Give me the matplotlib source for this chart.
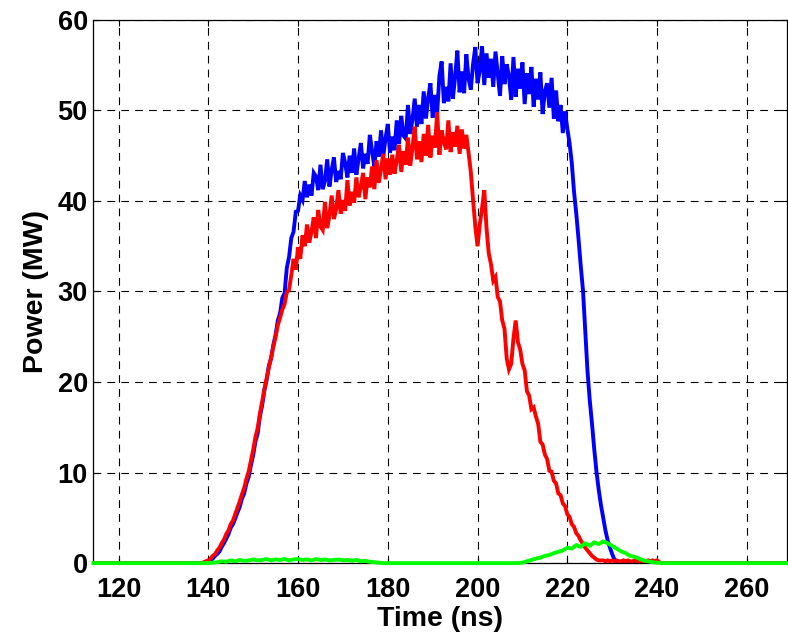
import matplotlib
matplotlib.use("Agg")
import matplotlib.pyplot as plt
import numpy as np

# --------------------------------------------------------------------------- #
# Data (MW vs ns)
# --------------------------------------------------------------------------- #
X_MIN, X_MAX = 114.4, 269.0
STEP = 0.5

# blue trace, 138.0 .. 232.0 ns every 0.5 ns
blue_start = 138.0
blue_power = [
    0.0, 0.0, 0.0, 0.1, 0.1, 0.3, 0.5, 0.8, 1.0, 1.3,            # 138
    1.8, 2.2, 2.7, 3.2, 3.9, 4.3, 4.9, 5.6, 6.2, 7.1,            # 143
    7.7, 8.8, 9.5, 10.8, 11.9, 13.4, 14.3, 16.2, 17.4, 19.1,     # 148
    20.2, 21.8, 22.6, 24.1, 25.2, 26.8, 27.6, 29.3, 29.8, 32.6,  # 153
    33.8, 35.9, 36.6, 38.8, 38.9, 40.6, 40.1, 42.2, 40.4, 41.8,  # 158
    40.6, 43.1, 42.7, 41.2, 44.0, 41.3, 42.2, 44.6, 41.6, 43.4,  # 163
    44.8, 42.1, 43.3, 42.4, 45.3, 44.2, 42.6, 45.0, 43.1, 45.8,  # 168
    42.9, 44.7, 46.4, 43.6, 45.2, 44.1, 47.3, 45.5, 43.8, 46.6,  # 173
    44.9, 47.8, 45.0, 46.9, 48.5, 45.3, 47.1, 45.6, 48.9, 46.3,  # 178
    49.4, 47.2, 46.9, 50.6, 47.4, 49.0, 51.3, 48.2, 50.6, 48.5,  # 183
    52.1, 49.1, 51.4, 53.0, 49.2, 51.7, 49.7, 53.8, 55.4, 50.8,  # 188
    52.6, 51.0, 55.2, 51.3, 53.7, 56.6, 52.0, 54.3, 51.9, 56.2,  # 193
    53.5, 52.3, 55.1, 57.0, 53.0, 54.4, 57.1, 52.8, 56.3, 53.6,  # 198
    55.7, 52.6, 56.5, 54.0, 51.6, 56.0, 52.9, 55.1, 53.8, 51.2,  # 203
    55.9, 51.5, 54.6, 52.4, 55.3, 50.7, 54.1, 51.8, 54.8, 50.4,  # 208
    53.5, 51.2, 54.2, 49.6, 52.1, 53.0, 50.3, 53.6, 49.1, 52.2,  # 213
    48.8, 50.6, 47.5, 49.9, 48.0, 46.4, 44.2, 41.0, 38.6, 35.8,  # 218
    32.8, 30.1, 25.6, 21.2, 18.0, 15.4, 12.6, 10.1, 8.1, 6.4,    # 223
    5.0, 3.6, 2.5, 1.7, 1.0, 0.4, 0.1, 0.0, 0.0,                 # 228
]

# red trace, 138.0 .. 241.0 ns every 0.5 ns
red_start = 138.0
red_power = [
    0.0, 0.0, 0.1, 0.2, 0.3, 0.5, 0.8, 1.0, 1.4, 1.7,            # 138
    2.2, 2.6, 3.2, 3.6, 4.3, 4.7, 5.4, 6.1, 6.8, 7.6,            # 143
    8.3, 9.3, 10.1, 11.3, 12.5, 13.9, 14.9, 16.5, 17.8, 19.2,    # 148
    20.4, 21.6, 22.7, 23.9, 25.0, 26.3, 27.1, 28.0, 28.6, 29.9,  # 153
    30.2, 31.8, 33.6, 32.4, 34.9, 33.6, 36.2, 35.0, 37.4, 35.4,  # 158
    36.6, 38.2, 35.9, 39.0, 37.2, 36.8, 39.9, 37.0, 38.4, 40.6,  # 163
    38.0, 39.1, 41.2, 38.6, 40.1, 38.9, 42.3, 39.5, 41.0, 39.8,  # 168
    42.6, 40.4, 41.6, 43.1, 40.2, 42.6, 41.5, 43.8, 41.3, 44.5,  # 173
    42.0, 43.6, 45.2, 42.4, 44.7, 42.9, 45.1, 43.0, 44.5, 46.2,  # 178
    43.2, 45.5, 44.0, 47.0, 43.9, 45.9, 48.2, 44.6, 46.6, 44.3,  # 183
    47.4, 45.0, 48.4, 44.8, 47.2, 45.9, 49.8, 45.1, 47.8, 46.5,  # 188
    45.7, 48.9, 45.4, 47.6, 46.0, 48.3, 45.2, 47.9, 45.8, 47.3,  # 193
    45.3, 43.2, 40.1, 37.2, 35.0, 37.4, 39.2, 41.2, 37.0, 34.2,  # 198
    33.0, 31.2, 31.6, 29.4, 28.9, 26.8, 25.9, 22.6, 21.4, 22.0,  # 203
    24.8, 26.8, 24.4, 23.6, 22.0, 21.3, 19.0, 18.5, 17.0, 17.2,  # 208
    16.2, 15.4, 13.4, 13.1, 12.0, 11.5, 10.2, 10.1, 9.1, 8.8,    # 213
    7.7, 7.5, 6.6, 6.3, 5.4, 5.1, 4.3, 4.0, 3.3, 3.0,            # 218
    2.5, 2.1, 1.7, 1.4, 1.1, 0.8, 0.6, 0.4, 0.3, 0.3,            # 223
    0.3, 0.2, 0.3, 0.2, 0.3, 0.2, 0.3, 0.2, 0.2, 0.3,            # 228
    0.2, 0.3, 0.2, 0.2, 0.3, 0.2, 0.2, 0.3, 0.2, 0.2,            # 233
    0.3, 0.2, 0.3, 0.2, 0.3, 0.1, 0.0,                           # 238
]

# green trace, 140 .. 242 ns every 1 ns
green_start = 140.0
green_power = [
    0.0, 0.05, 0.1, 0.2, 0.15, 0.3, 0.2, 0.35, 0.25, 0.3,        # 140
    0.4, 0.3, 0.35, 0.45, 0.3, 0.4, 0.35, 0.45, 0.3, 0.4,        # 150
    0.45, 0.35, 0.4, 0.3, 0.45, 0.35, 0.4, 0.3, 0.35, 0.4,       # 160
    0.3, 0.35, 0.25, 0.35, 0.2, 0.25, 0.15, 0.1, 0.05, 0.0,      # 170
    0.0, 0.0, 0.0, 0.0, 0.0, 0.0, 0.0, 0.0, 0.0, 0.0,            # 180
    0.0, 0.0, 0.0, 0.0, 0.0, 0.0, 0.0, 0.0, 0.0, 0.0,            # 190
    0.0, 0.0, 0.0, 0.0, 0.0, 0.0, 0.0, 0.0, 0.0, 0.0,            # 200
    0.05, 0.2, 0.35, 0.5, 0.6, 0.8, 0.9, 1.1, 1.25, 1.4,         # 210
    1.7, 1.6, 2.0, 1.8, 2.2, 1.9, 2.3, 2.1, 2.4, 2.2,            # 220
    1.9, 1.6, 1.3, 1.1, 0.8, 0.7, 0.5, 0.3, 0.2, 0.1,            # 230
    0.05, 0.0, 0.0,                                              # 240
]

x_ticks = [120, 140, 160, 180, 200, 220, 240, 260]
y_ticks = [0, 10, 20, 30, 40, 50, 60]


def padded(start, step, values):
    """Time axis for a trace, with the flat zero baseline out to the axis edges."""
    t = start + step * np.arange(len(values))
    t = np.concatenate(([X_MIN], t, [X_MAX]))
    p = np.concatenate(([0.0], values, [0.0]))
    return t, p


plt.rcParams["font.family"] = ["Liberation Sans", "DejaVu Sans"]
plt.rcParams["font.weight"] = "bold"
plt.rcParams["font.size"] = 19.5

fig = plt.figure(figsize=(7.88, 6.41), dpi=100)
ax = fig.add_axes([0.1185, 0.1215, 0.8805, 0.8475])

for start, step, vals, col in [
    (blue_start, STEP, blue_power, (0, 0, 1)),
    (red_start, STEP, red_power, (1, 0, 0)),
]:
    t, p = padded(start, step, vals)
    ax.plot(t, p, color=col, lw=2.8, solid_joinstyle="miter", zorder=3)

t, p = padded(green_start, 1.0, green_power)
ax.plot(t, p, color=(0, 1, 0), lw=2.8, zorder=4, clip_on=False)

ax.set_xlim(X_MIN, X_MAX)
ax.set_ylim(0, 60)
ax.set_xticks(x_ticks)
ax.set_yticks(y_ticks)
ax.grid(True, color="k", linestyle=(0, (7, 5.5)), linewidth=0.8)
ax.set_axisbelow(True)
ax.tick_params(direction="in", length=4, width=0.8, top=True, right=True)
ax.tick_params(axis="x", pad=10)
ax.tick_params(axis="y", pad=4)
for s in ax.spines.values():
    s.set_linewidth(0.9)

ax.set_xlabel("Time (ns)", fontweight="bold", fontsize=20.5, labelpad=2)
ax.set_ylabel("Power (MW)", fontweight="bold", fontsize=20.5, labelpad=6)

fig.savefig("out.png", dpi=100)
